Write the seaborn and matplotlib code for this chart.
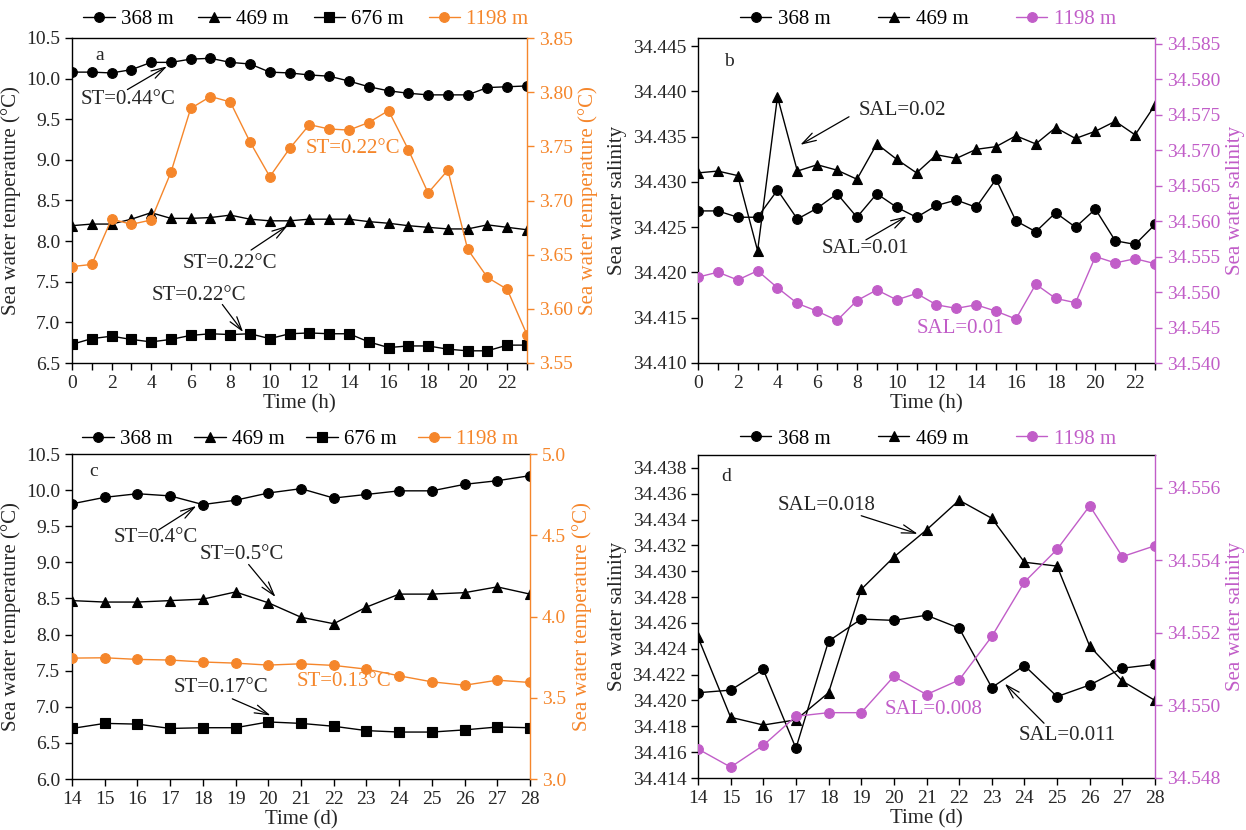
import numpy as np
import pandas as pd
import matplotlib
matplotlib.use("Agg")
import matplotlib.pyplot as plt
import seaborn as sns
from matplotlib.ticker import MultipleLocator, FormatStrFormatter, FixedLocator

# ---------------- data ----------------
hours = list(range(24))
a_368 = [10.08, 10.08, 10.07, 10.11, 10.20, 10.20, 10.24, 10.25, 10.20, 10.18, 10.08, 10.07,
         10.045, 10.03, 9.97, 9.90, 9.85, 9.82, 9.80, 9.80, 9.80, 9.89, 9.90, 9.91]
a_469 = [8.19, 8.21, 8.21, 8.27, 8.35, 8.28, 8.28, 8.29, 8.32, 8.27, 8.25, 8.25,
         8.27, 8.27, 8.27, 8.24, 8.22, 8.19, 8.17, 8.15, 8.15, 8.20, 8.17, 8.14]
a_676 = [6.73, 6.80, 6.83, 6.79, 6.76, 6.79, 6.84, 6.86, 6.85, 6.86, 6.80, 6.86,
         6.87, 6.86, 6.86, 6.76, 6.69, 6.71, 6.71, 6.67, 6.65, 6.65, 6.72, 6.72]
a_1198 = [3.639, 3.641, 3.683, 3.678, 3.682, 3.726, 3.785, 3.796, 3.791, 3.754, 3.722, 3.748,
          3.770, 3.766, 3.765, 3.772, 3.783, 3.747, 3.707, 3.728, 3.655, 3.629, 3.618, 3.576]

b_368 = [34.4268, 34.4268, 34.4261, 34.4261, 34.4291, 34.4259, 34.4271, 34.4287, 34.4261, 34.4287,
         34.4272, 34.4261, 34.4274, 34.4280, 34.4272, 34.4303, 34.4257, 34.4245, 34.4266, 34.4250,
         34.4270, 34.4235, 34.4231, 34.4253]
b_469 = [34.4310, 34.4312, 34.4307, 34.4224, 34.4394, 34.4312, 34.4319, 34.4313, 34.4303, 34.4342,
         34.4325, 34.4310, 34.4330, 34.4326, 34.4336, 34.4339, 34.4351, 34.4342, 34.4360, 34.4348,
         34.4356, 34.4367, 34.4352, 34.4385]
b_1198 = [34.5521, 34.5528, 34.5517, 34.5530, 34.5506, 34.5484, 34.5473, 34.5460, 34.5488, 34.5503,
          34.5489, 34.5498, 34.5482, 34.5477, 34.5482, 34.5473, 34.5462, 34.5511, 34.5491, 34.5485,
          34.5550, 34.5541, 34.5547, 34.5540]

days = list(range(14, 29))
c_368 = [9.81, 9.90, 9.95, 9.92, 9.80, 9.86, 9.96, 10.02, 9.89, 9.94, 9.99, 9.99, 10.08, 10.13, 10.20]
c_469 = [8.47, 8.45, 8.45, 8.47, 8.49, 8.59, 8.44, 8.24, 8.15, 8.38, 8.56, 8.56, 8.58, 8.66, 8.56]
c_676 = [6.70, 6.77, 6.76, 6.70, 6.71, 6.71, 6.79, 6.77, 6.73, 6.67, 6.65, 6.65, 6.68, 6.72, 6.71]
c_1198 = [3.744, 3.746, 3.736, 3.732, 3.720, 3.713, 3.701, 3.709, 3.699, 3.676, 3.635, 3.598,
          3.577, 3.608, 3.594]

d_368 = [34.4206, 34.4208, 34.4224, 34.4163, 34.4246, 34.4263, 34.4262, 34.4266, 34.4256, 34.4210,
         34.4227, 34.4203, 34.4212, 34.4225, 34.4228]
d_469 = [34.4249, 34.4187, 34.4181, 34.4185, 34.4206, 34.4286, 34.4311, 34.4332, 34.4355, 34.4341,
         34.4307, 34.4304, 34.4242, 34.4215, 34.4200]
d_1198 = [34.5488, 34.5483, 34.5489, 34.5497, 34.5498, 34.5498, 34.5508, 34.5503, 34.5507, 34.5519,
          34.5534, 34.5543, 34.5555, 34.5541, 34.5544]

depth_labels = ["368 m", "469 m", "676 m", "1198 m"]

# ---------------- style ----------------
sns.set_style("ticks")
plt.rcParams['font.family'] = ['Liberation Serif', 'DejaVu Serif']
FS = 14
ORANGE = "#F5862B"
PURPLE = "#C15DC8"
BLACK = "black"

fig = plt.figure(figsize=(12.46, 8.30), dpi=100)

W, H = 1246.0, 830.0


def rect(l, r, t, b):
    return [l / W, (H - b) / H, (r - l) / W, (b - t) / H]


def series(ax, x, y, marker, color, label, ms=7):
    df = pd.DataFrame({"x": x, "y": y})
    sns.lineplot(data=df, x="x", y="y", ax=ax, marker=marker, color=color, label=label,
                 markersize=ms, markeredgecolor=color, markeredgewidth=0.8,
                 linewidth=1.0, legend=False)
    return ax.lines[-1]


def style_axes(ax, ax2, rcolor):
    for a in (ax, ax2):
        a.set_xlabel("")
        a.set_ylabel("")
    ax.tick_params(axis='both', which='both', direction='out', labelsize=FS, width=1.0,
                   color='black')
    ax.tick_params(axis='both', which='major', length=5)
    ax.tick_params(axis='x', which='minor', length=5)
    ax2.tick_params(axis='y', which='both', direction='out', labelsize=FS, width=1.0,
                    length=5, colors=rcolor)
    for s in ['left', 'bottom', 'top']:
        ax.spines[s].set_color('black')
        ax.spines[s].set_linewidth(1.0)
    ax.spines['right'].set_visible(False)
    ax2.spines['right'].set_color(rcolor)
    ax2.spines['right'].set_linewidth(1.0)
    ax2.spines['left'].set_visible(False)
    ax2.spines['top'].set_visible(False)
    ax2.spines['bottom'].set_visible(False)


def legend(ax, handles, labels, colors, x, y, colsp):
    leg = ax.legend(handles, labels, ncol=len(handles), loc='center', bbox_to_anchor=(x, y),
                    frameon=False, fontsize=FS + 1, handlelength=1.5, handletextpad=0.3,
                    columnspacing=colsp, borderaxespad=0)
    for t, c in zip(leg.get_texts(), colors):
        t.set_color(c)


def arrow(ax, tail, tip):
    ax.annotate('', xy=tip, xytext=tail,
                arrowprops=dict(arrowstyle='->,head_length=1.0,head_width=0.3', lw=0.9,
                                color='black', shrinkA=0, shrinkB=0), zorder=5)


# ---------------- panel a ----------------
ax = fig.add_axes(rect(72, 527, 38, 363))
ax2 = ax.twinx()
h1 = series(ax, hours, a_368, 'o', BLACK, depth_labels[0])
h2 = series(ax, hours, a_469, '^', BLACK, depth_labels[1], ms=6.5)
h3 = series(ax, hours, a_676, 's', BLACK, depth_labels[2], ms=6.5)
h4 = series(ax2, hours, a_1198, 'o', ORANGE, depth_labels[3])
ax.set_xlim(0, 23)
ax.set_ylim(6.5, 10.5)
ax2.set_ylim(3.55, 3.85)
ax.xaxis.set_major_locator(FixedLocator(list(range(0, 23, 2))))
ax.xaxis.set_minor_locator(FixedLocator(list(range(1, 24, 2))))
ax.yaxis.set_major_locator(MultipleLocator(0.5))
ax.yaxis.set_major_formatter(FormatStrFormatter('%.1f'))
ax2.yaxis.set_major_locator(FixedLocator(np.arange(3.55, 3.851, 0.05)))
ax2.yaxis.set_major_formatter(FormatStrFormatter('%.2f'))
style_axes(ax, ax2, ORANGE)
ax.set_xlabel("Time (h)", fontsize=FS + 1, labelpad=2)
ax.set_ylabel("Sea water temperature (°C)", fontsize=FS + 1, labelpad=4)
ax2.set_ylabel("Sea water temperature (°C)", fontsize=FS + 1, color=ORANGE, labelpad=4)
ax.text(0.06, 0.945, "a", transform=ax.transAxes, fontsize=FS, ha='center', va='center')
ax.text(2.85, 9.74, "ST=0.44°C", fontsize=FS + 1, ha='center', va='center')
arrow(ax, (2.8, 9.865), (4.8, 10.15))
ax.text(8.0, 7.73, "ST=0.22°C", fontsize=FS + 1, ha='center', va='center')
arrow(ax, (9.05, 7.89), (10.9, 8.19))
ax.text(6.4, 7.33, "ST=0.22°C", fontsize=FS + 1, ha='center', va='center')
arrow(ax, (7.6, 7.22), (8.65, 6.88))
ax2.text(14.2, 3.748, "ST=0.22°C", fontsize=FS + 1, ha='center', va='center', color=ORANGE)
legend(ax, [h1, h2, h3, h4], depth_labels, [BLACK, BLACK, BLACK, ORANGE], 0.514, 1.058, 1.2)

# ---------------- panel b ----------------
ax = fig.add_axes(rect(698, 1155, 38, 363))
ax2 = ax.twinx()
h1 = series(ax, hours, b_368, 'o', BLACK, depth_labels[0])
h2 = series(ax, hours, b_469, '^', BLACK, depth_labels[1], ms=6.5)
h4 = series(ax2, hours, b_1198, 'o', PURPLE, depth_labels[3])
ax.set_xlim(0, 23)
ax.set_ylim(34.410, 34.4459)
ax2.set_ylim(34.540, 34.5858)
ax.xaxis.set_major_locator(FixedLocator(list(range(0, 23, 2))))
ax.xaxis.set_minor_locator(FixedLocator(list(range(1, 24, 2))))
ax.yaxis.set_major_locator(FixedLocator(np.arange(34.410, 34.4451, 0.005)))
ax.yaxis.set_major_formatter(FormatStrFormatter('%.3f'))
ax2.yaxis.set_major_locator(FixedLocator(np.arange(34.540, 34.5851, 0.005)))
ax2.yaxis.set_major_formatter(FormatStrFormatter('%.3f'))
style_axes(ax, ax2, PURPLE)
ax.set_xlabel("Time (h)", fontsize=FS + 1, labelpad=2)
ax.set_ylabel("Sea water salinity", fontsize=FS + 1, labelpad=4)
ax2.set_ylabel("Sea water salinity", fontsize=FS + 1, color=PURPLE, labelpad=4)
ax.text(0.068, 0.928, "b", transform=ax.transAxes, fontsize=FS, ha='center', va='center')
ax.text(10.3, 34.4379, "SAL=0.02", fontsize=FS + 1, ha='center', va='center')
arrow(ax, (7.6, 34.4372), (5.15, 34.4341))
ax.text(8.4, 34.4226, "SAL=0.01", fontsize=FS + 1, ha='center', va='center')
arrow(ax, (8.45, 34.4236), (10.5, 34.4262))
ax2.text(13.2, 34.5449, "SAL=0.01", fontsize=FS + 1, ha='center', va='center', color=PURPLE)
legend(ax, [h1, h2, h4], [depth_labels[0], depth_labels[1], depth_labels[3]],
       [BLACK, BLACK, PURPLE], 0.503, 1.058, 2.3)

# ---------------- panel c ----------------
ax = fig.add_axes(rect(72, 530, 454, 779))
ax2 = ax.twinx()
h1 = series(ax, days, c_368, 'o', BLACK, depth_labels[0])
h2 = series(ax, days, c_469, '^', BLACK, depth_labels[1], ms=6.5)
h3 = series(ax, days, c_676, 's', BLACK, depth_labels[2], ms=6.5)
h4 = series(ax2, days, c_1198, 'o', ORANGE, depth_labels[3])
ax.set_xlim(14, 28)
ax.set_ylim(6.0, 10.5)
ax2.set_ylim(3.0, 5.0)
ax.xaxis.set_major_locator(MultipleLocator(1))
ax.yaxis.set_major_locator(MultipleLocator(0.5))
ax.yaxis.set_major_formatter(FormatStrFormatter('%.1f'))
ax2.yaxis.set_major_locator(MultipleLocator(0.5))
ax2.yaxis.set_major_formatter(FormatStrFormatter('%.1f'))
style_axes(ax, ax2, ORANGE)
ax.set_xlabel("Time (d)", fontsize=FS + 1, labelpad=2)
ax.set_ylabel("Sea water temperature (°C)", fontsize=FS + 1, labelpad=4)
ax2.set_ylabel("Sea water temperature (°C)", fontsize=FS + 1, color=ORANGE, labelpad=4)
ax.text(0.048, 0.945, "c", transform=ax.transAxes, fontsize=FS, ha='center', va='center')
ax.text(16.57, 9.34, "ST=0.4°C", fontsize=FS + 1, ha='center', va='center')
arrow(ax, (16.65, 9.45), (17.8, 9.78))
ax.text(19.19, 9.11, "ST=0.5°C", fontsize=FS + 1, ha='center', va='center')
arrow(ax, (19.4, 8.97), (20.22, 8.52))
ax.text(18.54, 7.27, "ST=0.17°C", fontsize=FS + 1, ha='center', va='center')
arrow(ax, (18.9, 7.11), (20.07, 6.88))
ax2.text(22.3, 3.600, "ST=0.13°C", fontsize=FS + 1, ha='center', va='center', color=ORANGE)
legend(ax, [h1, h2, h3, h4], depth_labels, [BLACK, BLACK, BLACK, ORANGE], 0.498, 1.046, 1.05)

# ---------------- panel d ----------------
ax = fig.add_axes(rect(698, 1155, 455, 778))
ax2 = ax.twinx()
h1 = series(ax, days, d_368, 'o', BLACK, depth_labels[0])
h2 = series(ax, days, d_469, '^', BLACK, depth_labels[1], ms=6.5)
h4 = series(ax2, days, d_1198, 'o', PURPLE, depth_labels[3])
ax.set_xlim(14, 28)
ax.set_ylim(34.414, 34.4390)
ax2.set_ylim(34.548, 34.5569)
ax.xaxis.set_major_locator(MultipleLocator(1))
ax.yaxis.set_major_locator(FixedLocator(np.arange(34.414, 34.4381, 0.002)))
ax.yaxis.set_major_formatter(FormatStrFormatter('%.3f'))
ax2.yaxis.set_major_locator(FixedLocator(np.arange(34.548, 34.5561, 0.002)))
ax2.yaxis.set_major_formatter(FormatStrFormatter('%.3f'))
style_axes(ax, ax2, PURPLE)
ax.set_xlabel("Time (d)", fontsize=FS + 1, labelpad=2)
ax.set_ylabel("Sea water salinity", fontsize=FS + 1, labelpad=4)
ax2.set_ylabel("Sea water salinity", fontsize=FS + 1, color=PURPLE, labelpad=4)
ax.text(0.062, 0.933, "d", transform=ax.transAxes, fontsize=FS, ha='center', va='center')
ax.text(17.94, 34.4351, "SAL=0.018", fontsize=FS + 1, ha='center', va='center')
arrow(ax, (19.0, 34.4343), (20.73, 34.4329))
ax.text(25.3, 34.4173, "SAL=0.011", fontsize=FS + 1, ha='center', va='center')
arrow(ax, (24.6, 34.41824), (23.4, 34.4213))
ax2.text(21.22, 34.5499, "SAL=0.008", fontsize=FS + 1, ha='center', va='center', color=PURPLE)
legend(ax, [h1, h2, h4], [depth_labels[0], depth_labels[1], depth_labels[3]],
       [BLACK, BLACK, PURPLE], 0.503, 1.050, 2.3)

fig.savefig("out.png", dpi=100)
